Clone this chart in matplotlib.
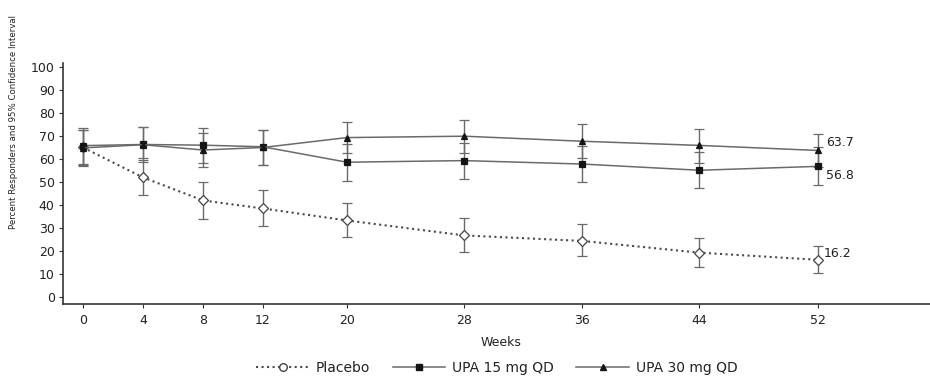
import numpy as np
import matplotlib
matplotlib.use("Agg")
import matplotlib.pyplot as plt
from matplotlib.lines import Line2D

# Semanas de evaluación
semanas = [0, 4, 8, 12, 20, 28, 36, 44, 52]

# Placebo: porcentaje de respondedores e IC 95%
placebo = np.array([65.0, 52.0, 42.0, 38.5, 33.3, 26.8, 24.4, 19.3, 16.2])
placebo_inf = np.array([57.5, 44.3, 34.0, 31.0, 26.0, 19.8, 17.8, 13.0, 10.4])
placebo_sup = np.array([72.6, 59.4, 49.8, 46.4, 40.7, 34.2, 31.6, 25.8, 22.0])

# UPA 15 mg QD
upa15 = np.array([65.8, 66.3, 66.0, 65.3, 58.6, 59.3, 57.8, 55.1, 56.8])
upa15_inf = np.array([58.0, 58.8, 58.1, 57.5, 50.4, 51.3, 50.0, 47.2, 48.5])
upa15_sup = np.array([73.4, 74.0, 73.5, 72.8, 66.5, 66.9, 65.6, 63.0, 65.1])

# UPA 30 mg QD
upa30 = np.array([64.8, 66.2, 63.9, 65.0, 69.3, 69.9, 67.7, 65.9, 63.7])
upa30_inf = np.array([57.0, 60.6, 56.4, 57.6, 62.5, 62.7, 60.6, 58.4, 56.7])
upa30_sup = np.array([72.6, 73.8, 71.4, 72.4, 76.1, 77.0, 75.1, 73.2, 70.7])

# Posición horizontal de cada visita en el eje (espaciado no lineal)
posiciones = [0, 4, 8, 12, 17.6, 25.4, 33.3, 41.1, 49.0]

color_linea = "#6a6a6a"
color_marca = "#151515"
color_eje = "#333333"

fig = plt.figure(figsize=(9.3, 3.76), dpi=100)
ax = fig.add_axes([63 / 930, 1 - 304 / 376, 1 - 63 / 930, (304 - 63) / 376])


def serie(valores, inf, sup, marcador, estilo, color, relleno, tam, grosor):
    ax.errorbar(posiciones, valores, yerr=[valores - inf, sup - valores],
                color=color, ecolor=color_linea, linestyle=estilo,
                linewidth=grosor, elinewidth=1.0, capsize=3.5, capthick=1.0,
                marker=marcador, markersize=tam, markerfacecolor=relleno,
                markeredgecolor=color_marca if relleno != "white" else "#444444",
                markeredgewidth=0.9, zorder=3)


serie(placebo, placebo_inf, placebo_sup, "D", ":", "#4a4a4a", "white", 5.5, 1.5)
serie(upa15, upa15_inf, upa15_sup, "s", "-", color_linea, color_marca, 3.8, 1.1)
serie(upa30, upa30_inf, upa30_sup, "^", "-", color_linea, color_marca, 5.0, 1.1)

# Valores finales en la semana 52
ax.annotate(f"{upa30[-1]}", xy=(posiciones[-1], upa30[-1]), xytext=(8, 8),
            textcoords="offset pixels", va="center", fontsize=9, color="#222222")
ax.annotate(f"{upa15[-1]}", xy=(posiciones[-1], upa15[-1]), xytext=(8, -9),
            textcoords="offset pixels", va="center", fontsize=9, color="#222222")
ax.annotate(f"{placebo[-1]}", xy=(posiciones[-1], placebo[-1]), xytext=(6, 6),
            textcoords="offset pixels", va="center", fontsize=9, color="#222222")

ax.set_xlim(-1.33, 56.47)
ax.set_ylim(-3.0, 101.7)
ax.set_xticks(posiciones)
ax.set_xticklabels([str(s) for s in semanas])
ax.set_yticks(range(0, 101, 10))

for lado in ["top", "right"]:
    ax.spines[lado].set_visible(False)
for lado in ["left", "bottom"]:
    ax.spines[lado].set_color(color_eje)
    ax.spines[lado].set_linewidth(1.2)

ax.tick_params(axis="both", colors=color_eje, labelcolor="#222222",
               labelsize=9, width=0.8)
ax.tick_params(axis="y", length=3, pad=3)
ax.tick_params(axis="x", length=3, pad=4)

fig.text(0.5 * (63 + 930) / 930 + 0.005, 1 - 343 / 376, "Weeks",
         ha="center", va="center", fontsize=9, color="#222222")
fig.text(14 / 930, 1 - 122 / 376, "Percent Responders and 95% Confidence Interval",
         rotation=90, ha="center", va="center", fontsize=6.2, color="#222222")

# Leyenda
handles = [
    Line2D([], [], color="#4a4a4a", linestyle=":", linewidth=1.5, marker="o",
           markersize=5.5, markerfacecolor="white", markeredgecolor="#444444"),
    Line2D([], [], color=color_linea, linestyle="-", linewidth=1.1, marker="s",
           markersize=3.8, markerfacecolor=color_marca, markeredgecolor=color_marca),
    Line2D([], [], color=color_linea, linestyle="-", linewidth=1.1, marker="^",
           markersize=5.0, markerfacecolor=color_marca, markeredgecolor=color_marca),
]
fig.legend(handles, ["Placebo", "UPA 15 mg QD", "UPA 30 mg QD"],
           loc="center", bbox_to_anchor=(497 / 930, 1 - 368 / 376), ncol=3,
           frameon=False, fontsize=10, handlelength=3.8, handletextpad=0.5,
           columnspacing=1.6, labelcolor="#222222")

plt.savefig("out.png", dpi=100)
